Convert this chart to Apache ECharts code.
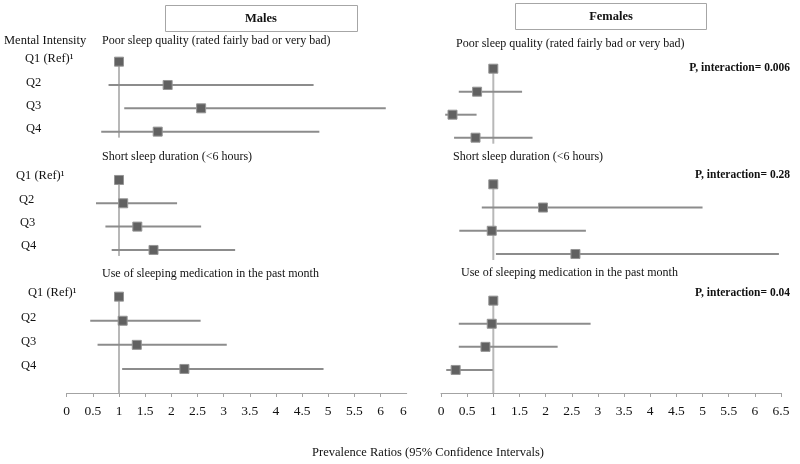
<!DOCTYPE html>
<html>
<head>
<meta charset="utf-8">
<script src="https://cdn.jsdelivr.net/npm/echarts@6/dist/echarts.min.js"></script>
<style>html,body{margin:0;padding:0;background:#fff}#chart{width:800px;height:464px}</style>
</head>
<body>
<div id="chart"></div>
<script>
var quartiles = ['Q1 (Ref)\u00b9', 'Q2', 'Q3', 'Q4'];
var outcomes = ['Poor sleep quality (rated fairly bad or very bad)', 'Short sleep duration (<6 hours)', 'Use of sleeping medication in the past month'];
var pInteraction = ['P, interaction= 0.006', 'P, interaction= 0.28', 'P, interaction= 0.04'];
var maleTickLabels = ['0', '0.5', '1', '1.5', '2', '2.5', '3', '3.5', '4', '4.5', '5', '5.5', '6', '6'];
var femaleTickLabels = ['0', '0.5', '1', '1.5', '2', '2.5', '3', '3.5', '4', '4.5', '5', '5.5', '6', '6.5'];

// males - prevalence ratio, lower and upper 95% CI
var malePoorPR = [1.00, 1.93, 2.57, 1.74];
var malePoorLo = [null, 0.80, 1.10, 0.66];
var malePoorHi = [null, 4.72, 6.10, 4.83];
var maleShortPR = [1.00, 1.08, 1.35, 1.66];
var maleShortLo = [null, 0.56, 0.74, 0.86];
var maleShortHi = [null, 2.11, 2.57, 3.22];
var maleMedPR = [1.00, 1.07, 1.34, 2.25];
var maleMedLo = [null, 0.45, 0.59, 1.06];
var maleMedHi = [null, 2.56, 3.06, 4.91];

// females
var femalePoorPR = [1.00, 0.69, 0.22, 0.66];
var femalePoorLo = [null, 0.34, 0.08, 0.25];
var femalePoorHi = [null, 1.55, 0.68, 1.75];
var femaleShortPR = [1.00, 1.95, 0.97, 2.57];
var femaleShortLo = [null, 0.78, 0.35, 1.05];
var femaleShortHi = [null, 5.00, 2.77, 6.46];
var femaleMedPR = [1.00, 0.97, 0.85, 0.28];
var femaleMedLo = [null, 0.34, 0.34, 0.10];
var femaleMedHi = [null, 2.86, 2.23, 0.99];

var FONT = '"Liberation Serif", "Times New Roman", serif';

var panels = [
  { pr: malePoorPR, lo: malePoorLo, hi: malePoorHi, left: 66.7, top: 50, height: 93.3, refEnd: null, labelX: [25, 26, 26, 26], up: 2.5 },
  { pr: maleShortPR, lo: maleShortLo, hi: maleShortHi, left: 66.7, top: 168.3, height: 93.3, refEnd: null, labelX: [16, 19, 20, 21], up: 4 },
  { pr: maleMedPR, lo: maleMedLo, hi: maleMedHi, left: 66.7, top: 284.6, height: 96.4, refEnd: 12, labelX: [28, 21, 21, 21], up: 3.5 },
  { pr: femalePoorPR, lo: femalePoorLo, hi: femalePoorHi, left: 441, top: 57.2, height: 92, refEnd: null },
  { pr: femaleShortPR, lo: femaleShortLo, hi: femaleShortHi, left: 441, top: 172.7, height: 92.9, refEnd: null },
  { pr: femaleMedPR, lo: femaleMedLo, hi: femaleMedHi, left: 441, top: 289.1, height: 92.4, refEnd: 11.5 }
];

function makeRender(refEnd) {
  return function (params, api) {
    var lo = api.value(0), hi = api.value(1), pr = api.value(2), row = api.value(3);
    var c = api.coord([pr, row]);
    var kids = [];
    if (params.dataIndex === 0) {
      var first = api.coord([1, 0]);
      var last = api.coord([1, quartiles.length - 1]);
      var cs = params.coordSys;
      var y2 = refEnd == null ? last[1] + 6 : cs.y + cs.height + refEnd;
      kids.push({ type: 'line', shape: { x1: first[0], y1: first[1] - 4, x2: first[0], y2: y2 },
        style: { stroke: '#b8b8b8', lineWidth: 2 } });
    }
    if (lo != null && !isNaN(lo)) {
      var a = api.coord([lo, row]), b = api.coord([hi, row]);
      kids.push({ type: 'line', shape: { x1: a[0], y1: a[1], x2: b[0], y2: b[1] },
        style: { stroke: '#8c8c8c', lineWidth: 2 } });
    }
    kids.push({ type: 'rect', shape: { x: c[0] - 4.5, y: c[1] - 4.5, width: 9, height: 9 },
      style: { fill: '#616161', stroke: '#959595', lineWidth: 1 } });
    return { type: 'group', children: kids };
  };
}

var grids = [], xAxes = [], yAxes = [], series = [];
panels.forEach(function (p, i) {
  var male = i < 3;
  var bottomPanel = i % 3 === 2;
  grids.push({ left: p.left, top: p.top, width: 340, height: p.height, containLabel: false, outerBoundsMode: 'none' });

  var labels = male ? maleTickLabels : femaleTickLabels;
  var tickVals = [];
  for (var k = 0; k < (male ? 13 : 14); k++) tickVals.push(k * 0.5);
  xAxes.push({
    type: 'value', gridIndex: i, min: 0, max: 6.5, interval: 0.5,
    show: bottomPanel, offset: p.refEnd || 0,
    axisLine: { show: true, onZero: false, lineStyle: { color: '#a3a3a3', width: 1 } },
    axisTick: { show: true, length: 4, customValues: tickVals, lineStyle: { color: '#a3a3a3' } },
    splitLine: { show: false },
    axisLabel: {
      margin: 11, color: '#111', fontFamily: FONT, fontSize: 13.5,
      alignMaxLabel: male ? 'right' : null,
      formatter: function (v) { return labels[Math.round(v * 2)]; }
    }
  });

  var yAxis = {
    type: 'category', gridIndex: i, data: quartiles, inverse: true,
    axisLine: { show: false }, axisTick: { show: false }, splitLine: { show: false },
    axisLabel: { show: false }
  };
  if (male) {
    var minX = Math.min.apply(null, p.labelX);
    var rich = {};
    p.labelX.forEach(function (x, j) {
      rich['r' + j] = { fontFamily: FONT, fontSize: 12.5, color: '#111', padding: [0, 0, p.up * 2, x - minX] };
    });
    yAxis.axisLabel = {
      show: true, align: 'left', margin: p.left - minX,
      formatter: function (v, j) { return '{r' + j + '|' + v + '}'; },
      rich: rich
    };
  }
  yAxes.push(yAxis);

  series.push({
    type: 'custom', xAxisIndex: i, yAxisIndex: i, clip: false,
    dimensions: ['lo', 'hi', 'pr', 'q'],
    encode: { x: [0, 1, 2], y: 3 },
    renderItem: makeRender(p.refEnd),
    data: quartiles.map(function (q, j) { return [p.lo[j], p.hi[j], p.pr[j], q]; })
  });
});

function txt(text, x, y, opts) {
  opts = opts || {};
  return {
    type: 'text', x: x, y: y, silent: true, z: 10,
    style: {
      text: text, fill: '#111', fontFamily: FONT, fontSize: opts.size || 12,
      fontWeight: opts.bold ? 'bold' : 'normal',
      textAlign: opts.align || 'left', textVerticalAlign: 'middle'
    }
  };
}

var graphics = [
  { type: 'rect', shape: { x: 165.5, y: 5.5, width: 192, height: 26 }, style: { fill: '#fff', stroke: '#a6a6a6', lineWidth: 1 } },
  { type: 'rect', shape: { x: 515.5, y: 3.5, width: 191, height: 26 }, style: { fill: '#fff', stroke: '#a6a6a6', lineWidth: 1 } },
  txt('Males', 261, 18.5, { bold: true, align: 'center', size: 12.5 }),
  txt('Females', 611, 16.5, { bold: true, align: 'center', size: 12.5 }),
  txt('Mental Intensity', 4, 41, { size: 12.5 }),
  txt(outcomes[0], 102, 41),
  txt(outcomes[1], 102, 157),
  txt(outcomes[2], 102, 274),
  txt(outcomes[0], 456, 44),
  txt(outcomes[1], 453, 157),
  txt(outcomes[2], 461, 273),
  txt(pInteraction[0], 790, 68, { bold: true, align: 'right', size: 11.5 }),
  txt(pInteraction[1], 790, 175, { bold: true, align: 'right', size: 11.5 }),
  txt(pInteraction[2], 790, 293, { bold: true, align: 'right', size: 11.5 }),
  txt('Prevalence Ratios (95% Confidence Intervals)', 428, 453, { align: 'center', size: 12.5 })
];

var chart = echarts.init(document.getElementById('chart'));
chart.setOption({
  backgroundColor: '#fff',
  animation: false,
  grid: grids,
  xAxis: xAxes,
  yAxis: yAxes,
  series: series,
  graphic: graphics
});
</script>
</body>
</html>
